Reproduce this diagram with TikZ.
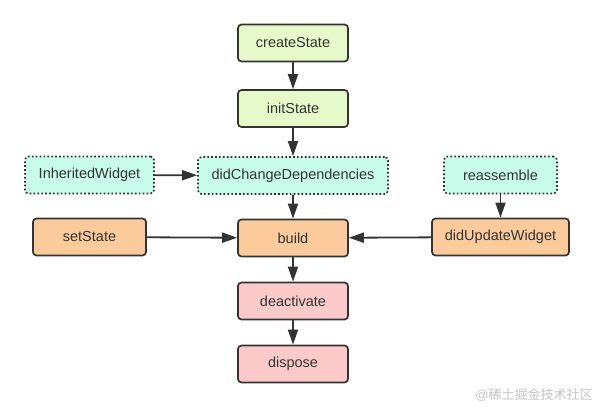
\documentclass[tikz,border=0pt]{standalone}
\usepackage{fontspec}
\setmainfont{Liberation Sans}
\newfontfamily\cjkfont{Noto Sans CJK SC}
\usepackage{tikz}
\usetikzlibrary{arrows.meta, positioning}
\usepackage{xcolor}
\definecolor{limegreen}{HTML}{E6F9C9}
\definecolor{mintgreen}{HTML}{C8FCEA}
\definecolor{peach}{HTML}{FCCB9C}
\definecolor{rosepink}{HTML}{FDCACA}
\definecolor{edgegray}{HTML}{333333}
\definecolor{markgray}{HTML}{C4C4C4}

\begin{document}
\begin{tikzpicture}[x=1pt, y=-1pt,
    state/.style={draw=edgegray, line width=1.7pt, rounded corners=3.5pt, minimum width=110pt, minimum height=37pt,
        text=edgegray, font=\fontsize{14.5}{16}\selectfont},
    hook/.style={state, fill=mintgreen, dash pattern=on 1.7pt off 2.2pt},
    flow/.style={-{Triangle[length=15pt, width=10pt]}, line width=1.8pt, draw=edgegray}]
                        \useasboundingbox (0,0) rectangle (594,407);
                        % Draw lifecycle column
                        \node[state, fill=limegreen] (create) at (293,43) {createState};
                        \node[state, fill=limegreen] (init) at (293,108.5) {initState};
                        \node[hook, minimum width=190pt] (depend) at (293,175.5) {didChangeDependencies};
                        \node[state, fill=peach] (build) at (293,238) {build};
                        \node[state, fill=rosepink] (deact) at (293,301) {deactivate};
                        \node[state, fill=rosepink] (dispose) at (293,364) {dispose};
                        % Draw side nodes
                        \node[hook, minimum width=129pt] (inherit) at (89.5,175) {InheritedWidget};
                        \node[state, fill=peach, minimum width=113pt] (setstate) at (89.5,237) {setState};
                        \node[hook, minimum width=113pt] (reassemble) at (500.5,175) {reassemble};
                        \node[state, fill=peach, minimum width=137pt] (update) at (500.5,237) {didUpdateWidget};
                        % Draw arrows
                        \draw[flow] (create) -- (init);
                        \draw[flow] (init) -- (depend);
                        \draw[flow] (depend) -- (build);
                        \draw[flow] (build) -- (deact);
                        \draw[flow] (deact) -- (dispose);
                        \draw[flow] (inherit) -- (depend);
                        \draw[flow] (setstate) -- (build);
                        \draw[flow] (reassemble) -- (update);
                        \draw[flow] (update) -- (build);
                        % Add watermark
                        \node[text=markgray, font=\fontsize{13}{15}\selectfont] (mark) at (534,395) {@{\cjkfont 稀土掘金技术社区}};
                    \end{tikzpicture}
\end{document}
